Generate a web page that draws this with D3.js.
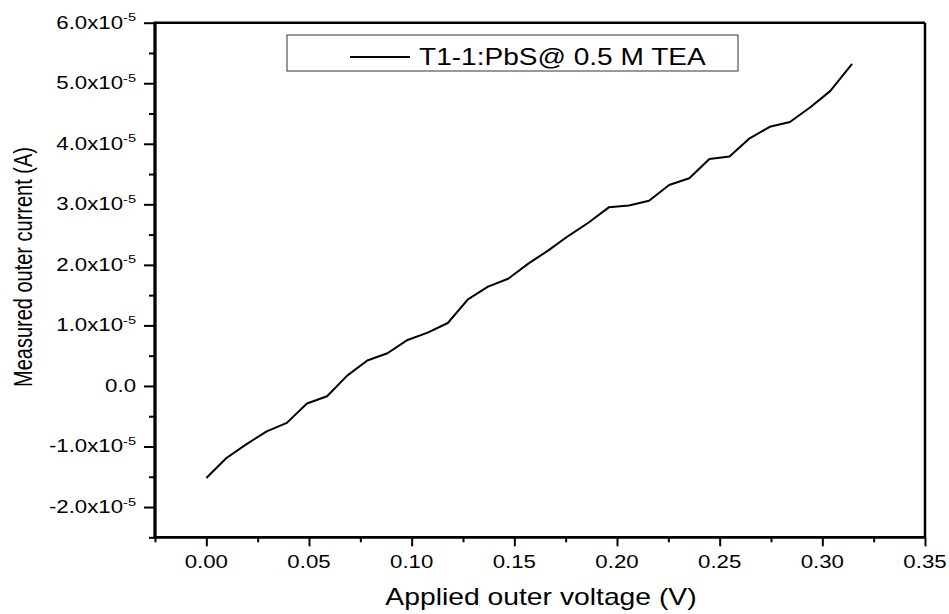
<!DOCTYPE html>
<html>
<head>
<meta charset="utf-8">
<script src="https://cdn.jsdelivr.net/npm/d3@7"></script>
<style>
  html, body { margin: 0; padding: 0; background: #fff; }
  svg { display: block; font-family: "Liberation Sans", Arial, sans-serif; }
</style>
</head>
<body>
<svg id="chart" width="949" height="614"></svg>
<script>
// ---- data ----
const voltage = [0.0000, 0.0098, 0.0196, 0.0294, 0.0392, 0.0490, 0.0588, 0.0686, 0.0784, 0.0882,
                 0.0980, 0.1078, 0.1176, 0.1274, 0.1372, 0.1470, 0.1568, 0.1666, 0.1764, 0.1862,
                 0.1960, 0.2058, 0.2156, 0.2254, 0.2352, 0.2450, 0.2548, 0.2646, 0.2744, 0.2842,
                 0.2940, 0.3038, 0.3145];
const current = [-1.52e-5, -1.19e-5, -0.96e-5, -0.75e-5, -0.61e-5, -0.29e-5, -0.17e-5, 0.17e-5, 0.42e-5, 0.54e-5,
                 0.76e-5, 0.88e-5, 1.04e-5, 1.43e-5, 1.64e-5, 1.77e-5, 2.02e-5, 2.24e-5, 2.48e-5, 2.70e-5,
                 2.95e-5, 2.98e-5, 3.06e-5, 3.32e-5, 3.43e-5, 3.75e-5, 3.79e-5, 4.09e-5, 4.28e-5, 4.36e-5,
                 4.60e-5, 4.87e-5, 5.32e-5];
const xMajorTicks = [0.00, 0.05, 0.10, 0.15, 0.20, 0.25, 0.30, 0.35];
const xMinorTicks = [-0.025, 0.025, 0.075, 0.125, 0.175, 0.225, 0.275, 0.325];
const xTickLabels = ["0.00", "0.05", "0.10", "0.15", "0.20", "0.25", "0.30", "0.35"];
const yMajorTicks = [-2e-5, -1e-5, 0, 1e-5, 2e-5, 3e-5, 4e-5, 5e-5, 6e-5];
const yMinorTicks = [-2.5e-5, -1.5e-5, -0.5e-5, 0.5e-5, 1.5e-5, 2.5e-5, 3.5e-5, 4.5e-5, 5.5e-5];
const yTickMantissa = ["-2.0", "-1.0", "0.0", "1.0", "2.0", "3.0", "4.0", "5.0", "6.0"];
const yTickExponent = ["-5", "-5", "", "-5", "-5", "-5", "-5", "-5", "-5"];
const seriesName = "T1-1:PbS@ 0.5 M TEA";
const xTitle = "Applied outer voltage (V)";
const yTitle = "Measured outer current (A)";

// ---- layout ----
const svg = d3.select("#chart");
const L = 155, R = 925, T = 22.7, B = 537.3;
const SXT = 1.27; // horizontal stretch of tick labels
const SXL = 1.22; // horizontal stretch of titles / legend

const x = d3.scaleLinear().domain([-0.025, 0.35]).range([L, R]);
const y = d3.scaleLinear().domain([-2.5e-5, 6e-5]).range([B, T]);

svg.append("rect").attr("width", 949).attr("height", 614).attr("fill", "#fff");

// frame (top and right)
svg.append("line").attr("x1", L).attr("x2", R).attr("y1", T).attr("y2", T)
  .attr("stroke", "#000").attr("stroke-width", 2.5);
svg.append("line").attr("x1", R).attr("x2", R).attr("y1", T).attr("y2", B)
  .attr("stroke", "#000").attr("stroke-width", 2.5);

// bottom axis
const gx = svg.append("g").attr("transform", `translate(0,${B})`);
gx.append("g").call(d3.axisBottom(x).tickValues(xMinorTicks).tickSize(5).tickFormat(""));
gx.append("g").call(d3.axisBottom(x).tickValues(xMajorTicks).tickSize(9).tickFormat(""));
gx.selectAll(".domain").attr("stroke-width", 2.5).attr("d", `M${L - 1},0H${R + 1}`);
gx.selectAll(".tick line").attr("stroke-width", 2);

gx.selectAll("text.xl").data(xMajorTicks).enter().append("text")
  .attr("class", "xl")
  .attr("transform", d => `translate(${x(d)},30.5) scale(${SXT},1)`)
  .attr("text-anchor", "middle")
  .attr("font-size", 17.5)
  .attr("fill", "#000")
  .text((d, i) => xTickLabels[i]);

// left axis
const gy = svg.append("g").attr("transform", `translate(${L},0)`);
gy.append("g").call(d3.axisLeft(y).tickValues(yMinorTicks).tickSize(6).tickFormat(""));
gy.append("g").call(d3.axisLeft(y).tickValues(yMajorTicks).tickSize(11).tickFormat(""));
gy.selectAll(".domain").attr("stroke-width", 2.8).attr("d", `M0,${T - 1}V${B + 1}`);
gy.selectAll(".tick line").attr("stroke-width", 2);

const yl = gy.selectAll("text.yl").data(yMajorTicks).enter().append("text")
  .attr("class", "yl")
  .attr("transform", d => `translate(-19,${y(d) + 6}) scale(${SXT},1)`)
  .attr("text-anchor", "end")
  .attr("font-size", 17.5)
  .attr("fill", "#000");
yl.append("tspan").text((d, i) => yTickMantissa[i] + (yTickExponent[i] ? "x10" : ""));
yl.append("tspan").attr("font-size", 11.5).attr("dy", -7.5)
  .text((d, i) => yTickExponent[i]);

// data line
const line = d3.line().x((d, i) => x(voltage[i])).y((d, i) => y(current[i]));
svg.append("path").datum(current)
  .attr("d", line)
  .attr("fill", "none")
  .attr("stroke", "#000")
  .attr("stroke-width", 2)
  .attr("stroke-linejoin", "round");

// legend
svg.append("rect").attr("x", 287).attr("y", 35).attr("width", 451).attr("height", 36)
  .attr("fill", "#fff").attr("stroke", "#333").attr("stroke-width", 1);
svg.append("line").attr("x1", 350).attr("x2", 410).attr("y1", 57).attr("y2", 57)
  .attr("stroke", "#000").attr("stroke-width", 1.8);
svg.append("text")
  .attr("transform", `translate(419,65) scale(${SXL},1)`)
  .attr("font-size", 23).attr("fill", "#000")
  .text(seriesName);

// axis titles
svg.append("text")
  .attr("transform", `translate(${(L + R) / 2 + 1},605) scale(${SXL},1)`)
  .attr("text-anchor", "middle").attr("font-size", 23.2).attr("fill", "#000")
  .text(xTitle);
svg.append("text")
  .attr("transform", `translate(32,267) scale(1.33,1) rotate(-90)`)
  .attr("text-anchor", "middle").attr("font-size", 20).attr("fill", "#000")
  .text(yTitle);
</script>
</body>
</html>
